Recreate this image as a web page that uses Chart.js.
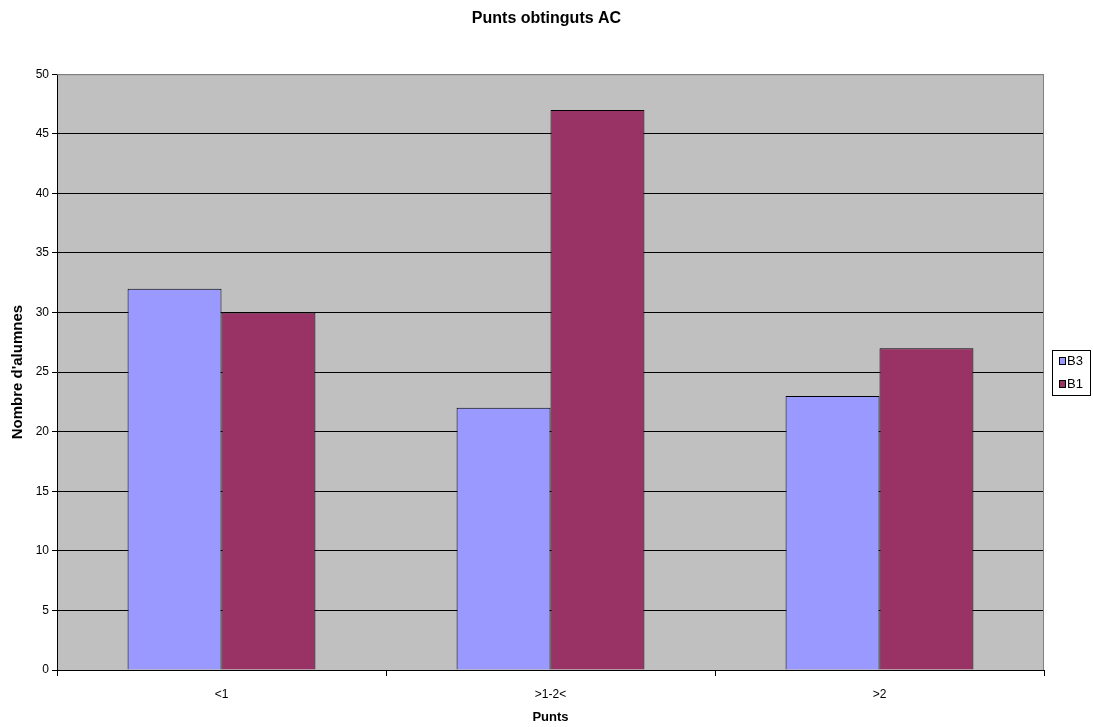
<!DOCTYPE html>
<html>
<head>
<meta charset="utf-8">
<script src="https://cdn.jsdelivr.net/npm/chart.js@4"></script>
<style>
  html, body { margin: 0; padding: 0; background: #fff; }
  #wrap { width: 1093px; height: 727px; }
</style>
</head>
<body>
<div id="wrap"><canvas id="puntsChart"></canvas></div>
<script>
  const categories = ['<1', '>1-2<', '>2'];
  const seriesNames = ['B3', 'B1'];
  const valuesB3 = [32, 22, 23];
  const valuesB1 = [30, 47, 27];
  const barColors = ['#9999FF', '#993366'];

  const FONT = '"Liberation Sans", Arial, sans-serif';

  // grey plot background + grey frame on top/right
  const plotArea = {
    id: 'plotArea',
    beforeDraw(chart) {
      const a = chart.chartArea, ctx = chart.ctx;
      ctx.save();
      ctx.fillStyle = '#C0C0C0';
      ctx.fillRect(a.left, a.top, a.right - a.left, a.bottom - a.top);
      ctx.restore();
    },
    afterDatasetsDraw(chart) {
      const a = chart.chartArea, ctx = chart.ctx;
      ctx.save();
      ctx.strokeStyle = '#808080';
      ctx.lineWidth = 1;
      ctx.beginPath();
      ctx.moveTo(a.left, a.top + 0.5);
      ctx.lineTo(a.right - 0.5, a.top + 0.5);
      ctx.lineTo(a.right - 0.5, a.bottom);
      ctx.stroke();
      ctx.restore();
    }
  };

  // boxed legend at the right, like the spreadsheet one
  const boxLegend = {
    id: 'boxLegend',
    afterDraw(chart) {
      const ctx = chart.ctx;
      const x = 1052, y = 350, w = 38, h = 45;
      ctx.save();
      ctx.fillStyle = '#fff';
      ctx.fillRect(x, y, w, h);
      ctx.strokeStyle = '#000';
      ctx.lineWidth = 1;
      ctx.strokeRect(x + 0.5, y + 0.5, w, h);
      ctx.font = '13px ' + FONT;
      ctx.textBaseline = 'middle';
      chart.data.datasets.forEach((ds, i) => {
        const cy = y + 11 + i * 23;
        ctx.fillStyle = ds.backgroundColor;
        ctx.fillRect(x + 7, cy - 3.5, 7, 7);
        ctx.strokeStyle = '#000';
        ctx.strokeRect(x + 7.5, cy - 3.5, 6, 7);
        ctx.fillStyle = '#000';
        ctx.fillText(ds.label, x + 15, cy + 0.5);
      });
      ctx.restore();
    }
  };

  new Chart(document.getElementById('puntsChart'), {
    type: 'bar',
    data: {
      labels: categories,
      datasets: [
        { label: seriesNames[0], data: valuesB3, backgroundColor: barColors[0],
          borderColor: '#000', borderWidth: 1, categoryPercentage: 0.571, barPercentage: 1.0 },
        { label: seriesNames[1], data: valuesB1, backgroundColor: barColors[1],
          borderColor: '#000', borderWidth: 1, categoryPercentage: 0.571, barPercentage: 1.0 }
      ]
    },
    options: {
      responsive: true,
      maintainAspectRatio: false,
      animation: false,
      layout: { padding: 0 },
      plugins: {
        legend: { display: false },
        tooltip: { enabled: false },
        title: {
          display: true,
          text: 'Punts obtinguts AC',
          color: '#000',
          font: { family: FONT, size: 16, weight: 'bold' },
          padding: { top: 9, bottom: 46 }
        }
      },
      scales: {
        x: {
          afterFit(scale) { scale.height = 57; },
          border: { color: '#000', width: 1 },
          grid: { offset: true, drawOnChartArea: false, drawTicks: true, tickLength: 6, color: '#000' },
          ticks: { color: '#000', padding: 11, font: { family: FONT, size: 12 } },
          title: {
            display: true, text: 'Punts', color: '#000',
            font: { family: FONT, size: 13, weight: 'bold' },
            padding: { top: 0, bottom: 2 }
          }
        },
        y: {
          min: 0,
          max: 50,
          afterFit(scale) { scale.width = 57; },
          border: { color: '#000', width: 1 },
          grid: {
            color: (c) => (c.tick && c.tick.value === 50 ? '#808080' : '#000'),
            tickColor: '#000',
            tickLength: 5,
            lineWidth: 1
          },
          ticks: { stepSize: 5, color: '#000', padding: 3, font: { family: FONT, size: 12 } },
          title: {
            display: true, text: "Nombre d'alumnes", color: '#000',
            font: { family: FONT, size: 15, weight: 'bold' },
            padding: { top: 9, bottom: 0 }
          }
        },
        // empty right-hand axis: keeps room for the boxed legend
        legendSpace: {
          position: 'right',
          afterFit(scale) { scale.width = 49; },
          display: true,
          border: { display: false },
          grid: { display: false },
          ticks: { display: false }
        }
      }
    },
    plugins: [plotArea, boxLegend]
  });
</script>
</body>
</html>
